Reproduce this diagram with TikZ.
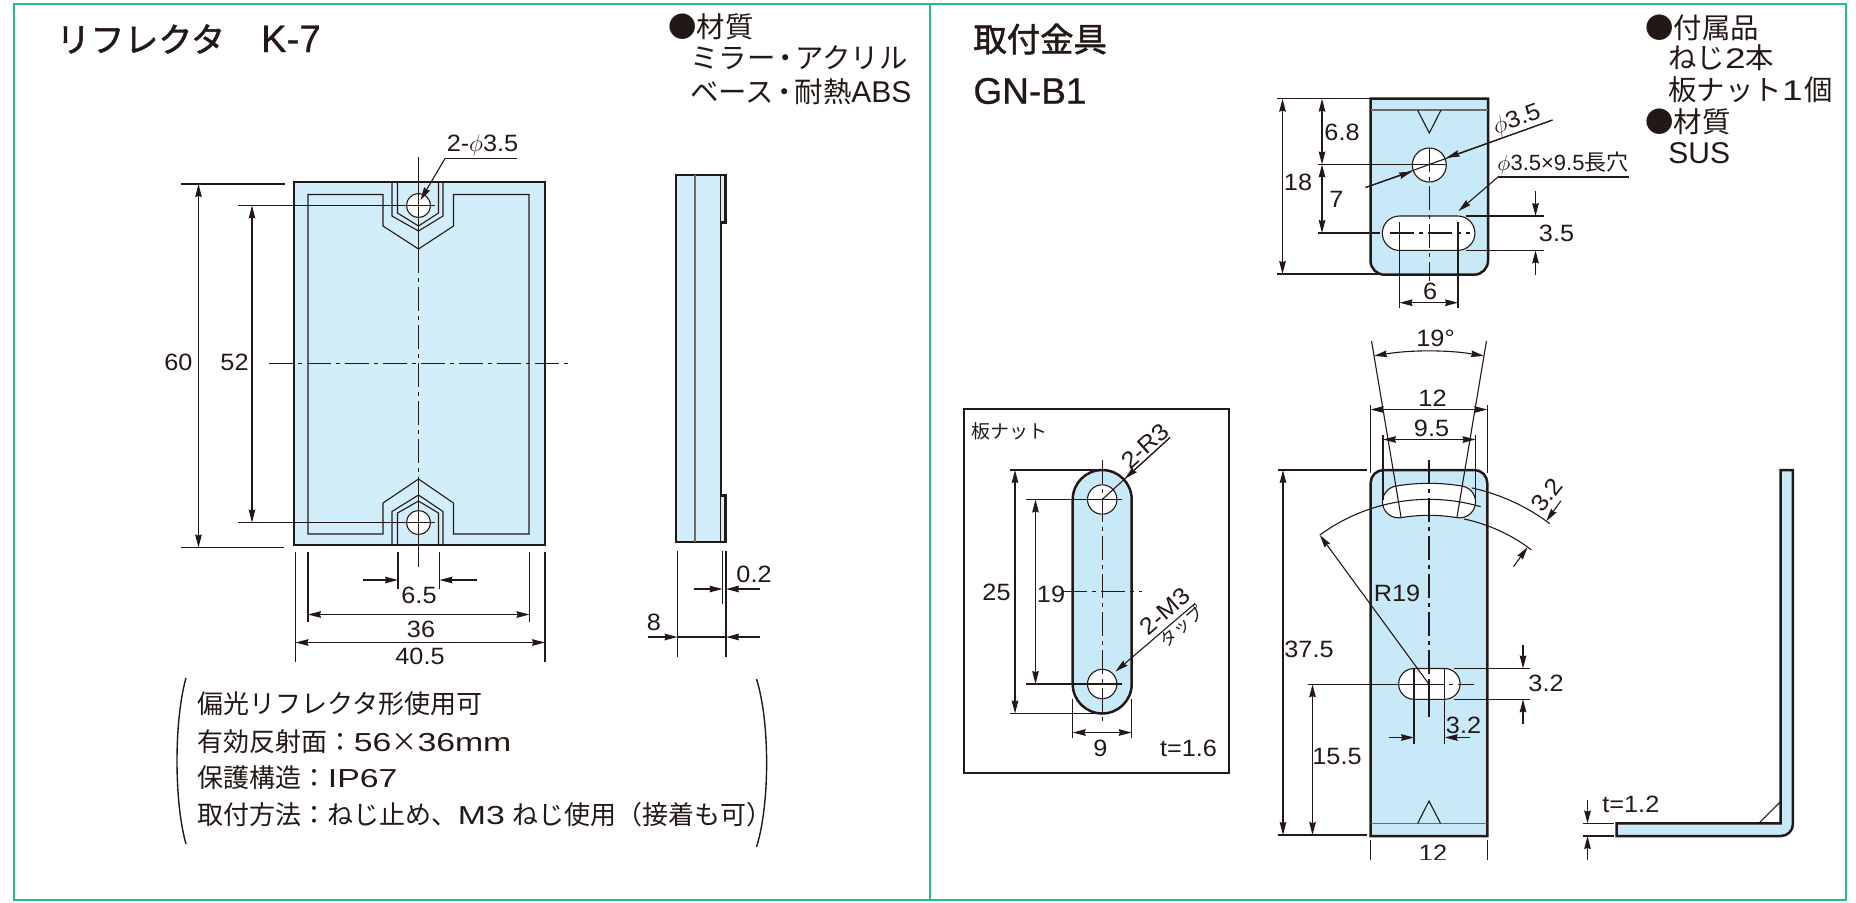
\documentclass[tikz,border=0pt]{standalone}
\usepackage{amsmath}
\usepackage{fontspec}
\setmainfont{Liberation Sans}
\newfontfamily\jpfont{Noto Sans CJK JP}
\newfontfamily\jptitle{Noto Sans CJK JP}[FakeBold=1.6]
\newfontfamily\latintitle{Liberation Sans}[FakeBold=0.6]
\newfontfamily\widefont{Liberation Sans}[FakeStretch=1.3]
\newfontfamily\dimfont{Liberation Sans}[FakeStretch=1.07]
\usetikzlibrary{calc,arrows.meta}

\definecolor{framegreen}{RGB}{40,184,146}
\definecolor{ink}{RGB}{35,24,21}
\definecolor{mirrorblue}{RGB}{210,238,251}
\definecolor{steelblue}{RGB}{200,233,248}

\tikzset{
	outline/.style={draw=ink, line width=1.25pt},
	hairline/.style={draw=ink, line width=0.55pt},
	graybar/.style={draw=ink!65, line width=0.7pt},
	centerline/.style={draw=ink, line width=0.55pt, dash pattern=on 12pt off 2.5pt on 2pt off 2.5pt},
	twoway/.style={hairline, {Stealth[length=6.5pt,width=3.3pt,inset=0.6pt]}-{Stealth[length=6.5pt,width=3.3pt,inset=0.6pt]}},
	oneway/.style={hairline, -{Stealth[length=6.5pt,width=3.3pt,inset=0.6pt]}},
	dimtext/.style={inner sep=0pt, text=ink, font=\fontsize{11.8}{13}\selectfont\dimfont},
	listtext/.style={inner sep=0pt, anchor=west, text=ink, font=\fontsize{14.2}{16}\selectfont},
	notetext/.style={inner sep=0pt, anchor=west, text=ink, font=\fontsize{13}{15}\selectfont},
	titletext/.style={inner sep=0pt, anchor=west, text=ink, font=\fontsize{16.7}{19}\selectfont},
}

\begin{document}
\begin{tikzpicture}[x=0.5pt, y=-0.5pt]

	\useasboundingbox (0,0) rectangle (1856,902);

	% ---- frame

	\draw[framegreen, line width=1.2pt] (14,4) rectangle (1846,900);
	\draw[framegreen, line width=1.2pt] (930,4) -- (930,900);

	% ---- titles

	\node[titletext] (titleK) at (56,39) {{\jptitle\fontsize{17}{19}\selectfont リフレクタ}\hspace{18pt}{\latintitle\fontsize{19.2}{20}\selectfont K-7}};
	\node[titletext] (titleG) at (973,39) {\jptitle 取付金具};
	\node[titletext] (titleN) at (973,91) {\latintitle\fontsize{18.5}{20}\selectfont GN-B1};

	% ---- material lists

	\node[listtext] (matA) at (668,27) {\jpfont ●材質};
	\node[listtext] (matB) at (690,58) {\jpfont ミラー\kern-2.2pt・\kern-2.2pt アクリル};
	\node[listtext] (matC) at (690,92) {{\jpfont ベース\kern-2pt・\kern-2pt 耐熱}\fontsize{15}{16}\selectfont ABS};

	\node[listtext] (accA) at (1645,28) {\jpfont ●付属品};
	\node[listtext] (accB) at (1668,58) {{\jpfont ねじ}{\widefont 2}{\jpfont 本}};
	\node[listtext] (accC) at (1668,90) {{\jpfont 板ナット}{\widefont 1}\kern1pt{\jpfont 個}};
	\node[listtext] (accD) at (1645,122) {\jpfont ●材質};
	\node[listtext] (accE) at (1668,153) {\fontsize{15}{16}\selectfont SUS};

	% ---- reflector, front view

	\fill[mirrorblue] (294,182) rectangle (545,545);

	\draw[hairline] (383,194.5) -- (308,194.5) -- (308,534) -- (383,534) -- (383,503) -- (418.5,479) -- (453.5,503)
		-- (453.5,534) -- (529,534) -- (529,194.5) -- (453.5,194.5) -- (453.5,226) -- (418.5,249) -- (383,226) -- cycle;

	\draw[hairline] (392,182) -- (392,216) -- (418.5,231) -- (443,216) -- (443,182);
	\draw[hairline] (397.5,182) -- (397.5,213) -- (418.5,226) -- (438.5,213) -- (438.5,182);
	\draw[hairline] (392,545) -- (392,511.5) -- (418.5,495) -- (443,511.5) -- (443,545);
	\draw[hairline] (397.5,545) -- (397.5,513) -- (418.5,501) -- (438.5,513) -- (438.5,545);

	\foreach \y in {205.5,522.5} {
		\filldraw[fill=white, draw=ink, line width=0.55pt] (418.5,\y) circle (12);
	}

	\draw[outline] (294,182) rectangle (545,545);

	\draw[hairline] (418.5,157) -- (418.5,249);
	\draw[centerline] (418.5,249) -- (418.5,479);
	\draw[hairline] (418.5,479) -- (418.5,567);
	\draw[centerline] (269,363.5) -- (569,363.5);

	% ---- reflector, dimensions

	\draw[hairline] (181,184) -- (285,184);
	\draw[hairline] (181,547.5) -- (284,547.5);
	\draw[twoway] (198.5,184) -- (198.5,547.5);
	\node[dimtext] (lblSixty) at (178.5,362) {60};

	\draw[hairline] (238,205.5) -- (434.5,205.5);
	\draw[hairline] (238,522.5) -- (434.5,522.5);
	\draw[twoway] (252,205.5) -- (252,522.5);
	\node[dimtext] (lblFiftyTwo) at (234.5,362) {52};

	\node[dimtext] (lblHole) at (482.5,145.5) {2-$\phi$3.5};
	\draw[hairline] (517,158.5) -- (445,158.5);
	\draw[oneway] (445,158.5) -- (420.5,200);

	\foreach \x in {295.5,545} { \draw[hairline] (\x,552) -- (\x,662); }
	\foreach \x in {308,529.5} { \draw[hairline] (\x,552) -- (\x,622); }
	\foreach \x in {398,439.5} { \draw[hairline] (\x,552) -- (\x,589); }

	\draw[oneway] (363,580) -- (398,580);
	\draw[oneway] (477,580) -- (439.5,580);
	\node[dimtext] (lblSixFive) at (419,595) {6.5};

	\draw[twoway] (308,614.5) -- (529.5,614.5);
	\node[dimtext] (lblThirtySix) at (421,629) {36};

	\draw[twoway] (295.5,642.5) -- (545,642.5);
	\node[dimtext] (lblForty) at (420,656) {40.5};

	% ---- reflector, side view

	\filldraw[fill=mirrorblue, outline] (676,175) -- (725.5,175) -- (725.5,222.5) -- (721,222.5) -- (721,495.5)
		-- (725.5,495.5) -- (725.5,542) -- (676,542) -- cycle;
	\draw[graybar] (695,175) -- (695,542);
	\draw[hairline] (720.5,175) -- (720.5,542);

	\draw[hairline] (677.5,551) -- (677.5,657);
	\draw[hairline] (726,551) -- (726,657);
	\draw[hairline] (722.5,551) -- (722.5,604);

	\draw[oneway] (693.5,589) -- (722.5,589);
	\draw[oneway] (760,589) -- (726,589);
	\node[dimtext] (lblGap) at (754,574) {0.2};

	\draw[hairline] (677.5,637) -- (726,637);
	\draw[oneway] (648,637) -- (677.5,637);
	\draw[oneway] (760,637) -- (726,637);
	\node[dimtext] (lblEight) at (654,622) {8};

	% ---- notes

	\draw[hairline, line width=0.7pt] (186,678) .. controls (174,720) and (174,802) .. (186,844);
	\draw[hairline, line width=0.7pt] (756.5,679) .. controls (770,722) and (770,804) .. (756.5,847);

	\node[notetext] (noteA) at (197.5,704) {\jpfont 偏光リフレクタ形使用可};
	\node[notetext] (noteB) at (197.5,741.5) {{\jpfont 有効反射面：}{\widefont 56}{\jpfont ×}{\widefont 36mm}};
	\node[notetext] (noteC) at (197.5,778) {{\jpfont 保護構造：}{\widefont IP67}};
	\node[notetext] (noteD) at (197.5,815) {{\jpfont 取付方法：ねじ止め、}{\widefont M3} {\jpfont ねじ使用（接着も可）}};

	% ---- mounting bracket, top view

	\filldraw[fill=steelblue, outline] (1370.5,98.7) -- (1488,98.7) -- (1488,260.7) arc (0:90:14)
		-- (1384.5,274.7) arc (90:180:14) -- cycle;
	\draw[graybar] (1370.5,110) -- (1488,110);
	\draw[hairline] (1417.5,110) -- (1429.3,133) -- (1441,110);

	\filldraw[fill=white, draw=ink, line width=0.55pt] (1429.3,165) circle (17);
	\filldraw[fill=white, draw=ink, line width=0.55pt] (1399.5,216) -- (1457.7,216) arc (270:450:17.2)
		-- (1399.5,250.4) arc (90:270:17.2) -- cycle;

	\draw[centerline] (1429.3,148) -- (1429.3,278);
	\draw[hairline] (1429.3,278) -- (1429.3,281);
	\draw[centerline] (1390,233) -- (1470,233);

	% ---- mounting bracket, top view dimensions

	\draw[hairline] (1277,98.7) -- (1370.5,98.7);
	\draw[hairline] (1277,274) -- (1377.5,274);
	\draw[twoway] (1282.5,98.7) -- (1282.5,274);
	\node[dimtext] (lblEighteen) at (1298,182) {18};

	\draw[hairline] (1317.5,164.5) -- (1446,164.5);
	\draw[hairline] (1317.5,233) -- (1379.5,233);
	\draw[twoway] (1322,98.7) -- (1322,164.5);
	\draw[twoway] (1322,164.5) -- (1322,233);
	\node[dimtext] (lblSixEight) at (1342,132.5) {6.8};
	\node[dimtext] (lblSeven) at (1336.5,199) {7};

	\draw[hairline] (1365.5,187.5) -- (1552.5,120);
	\draw[oneway] (1552.5,120) -- (1446.5,157.7);
	\draw[oneway] (1365.5,187.5) -- (1412,171.5);
	\node[dimtext, rotate=20] (lblRound) at (1517,120.5) {$\phi$3.5};

	\node[dimtext, font=\fontsize{11}{13}\selectfont] (lblSlot) at (1563,163) {$\phi$3.5×9.5{\jpfont 長穴}};
	\draw[hairline] (1628.5,177) -- (1498,177);
	\draw[oneway] (1498,177) -- (1458.5,211);

	\draw[hairline] (1466,216) -- (1543.5,216);
	\draw[hairline] (1466,250.4) -- (1543.5,250.4);
	\draw[oneway] (1535.5,191) -- (1535.5,216);
	\draw[oneway] (1535.5,275) -- (1535.5,250.4);
	\node[dimtext] (lblSlotH) at (1556.5,233) {3.5};

	\foreach \x in {1399.5,1458} { \draw[hairline] (\x,222) -- (\x,308); }
	\draw[twoway] (1399.5,302.7) -- (1458,302.7);
	\node[dimtext] (lblSix) at (1430,291) {6};

	% ---- plate nut

	\draw[draw=ink, line width=1pt] (963.5,409) rectangle (1228.5,772.5);
	\node[inner sep=0pt, anchor=west, text=ink, font=\fontsize{9.5}{11}\selectfont] (nutTitle) at (971.5,431) {\jpfont 板ナット};

	\filldraw[fill=steelblue, outline] (1072.7,499.5) arc (180:360:29.5) -- (1131.7,684) arc (0:180:29.5) -- cycle;

	\foreach \y in {499.5,684} {
		\filldraw[fill=white, draw=ink, line width=0.55pt] (1102.2,\y) circle (14.7);
		\draw[hairline] (1026,\y) -- (1121.5,\y);
	}

	\draw[centerline] (1102.2,460) -- (1102.2,723);
	\draw[centerline] (1063,591.5) -- (1142,591.5);

	\draw[hairline] (1010,470) -- (1100,470);
	\draw[hairline] (1010,713.5) -- (1100,713.5);
	\draw[twoway] (1015,470) -- (1015,713.5);
	\node[dimtext] (lblTwentyFive) at (996.5,592) {25};

	\draw[twoway] (1035.5,499.5) -- (1035.5,684);
	\node[dimtext] (lblNineteen) at (1051,594) {19};

	\foreach \x in {1072.7,1131.7} { \draw[hairline] (\x,699) -- (\x,738); }
	\draw[twoway] (1072.7,732.5) -- (1131.7,732.5);
	\node[dimtext] (lblNine) at (1100.5,748) {9};
	\node[dimtext] (lblNutT) at (1188.5,748) {t=1.6};

	\draw[hairline] (1170,437.5) -- (1102.2,499.5);
	\draw[oneway] (1170,437.5) -- (1125,478.5);
	\node[dimtext, rotate=42] (lblRadius) at (1145,446.5) {2-R3};

	\draw[oneway] (1195,603.5) -- (1115.5,671.5);
	\node[dimtext, rotate=41] (lblTap) at (1165,611.5) {2-M3};
	\node[dimtext, rotate=41, font=\fontsize{8.5}{10}\selectfont] (lblTapB) at (1181.5,626.5) {\jpfont タップ};

	% ---- bracket, front view

	\coordinate (RC) at (1429,684.3);
	\def\angA{260.5}
	\def\angB{279.5}

	\filldraw[fill=steelblue, outline] (1370.6,836) -- (1370.6,483) arc (180:270:13) -- (1474.3,470) arc (270:360:13)
		-- (1487.3,836) -- cycle;

	\draw[graybar] (1370.6,823.3) -- (1487.3,823.3);
	\draw[hairline] (1417.7,823.3) -- (1429,801) -- (1440.5,823.3);

	\filldraw[fill=white, draw=ink, line width=0.55pt] ($(RC)+(\angA:201)$) arc (\angA:\angB:201)
		arc (\angB:\angB+180:16) arc (\angB:\angA:169) arc (\angA-180:\angA:16) -- cycle;

	\filldraw[fill=white, draw=ink, line width=0.55pt] (1414,668.5) -- (1444.7,668.5) arc (270:450:15.4)
		-- (1414,699.3) arc (90:270:15.4) -- cycle;

	\draw[centerline] (1429,460) -- (1429,680);
	\draw[hairline] (1429,680) -- (1429,717);
	\draw[hairline] (1307.5,684.3) -- (1420,684.3);
	\draw[centerline] (1420,684.3) -- (1474,684.3);

	% ---- bracket, front view dimensions

	\draw[hairline] ($(RC)+(\angA:169)$) -- ($(RC)+(\angA:348)$);
	\draw[hairline] ($(RC)+(\angB:169)$) -- ($(RC)+(\angB:348)$);
	\draw[twoway] ($(RC)+(\angA:333)$) arc (\angA:\angB:333);
	\node[dimtext] (lblAngle) at (1435.5,338) {19°};

	\foreach \x in {1370.5,1487.3} { \draw[hairline] (\x,405) -- (\x,473); }
	\draw[twoway] (1370.5,409.5) -- (1487.3,409.5);
	\node[dimtext] (lblTwelve) at (1432.5,398.5) {12};

	\draw[hairline] (1383,435) -- (1383,500);
	\draw[hairline] (1475.5,435) -- (1475.5,505);
	\draw[twoway] (1383,439.5) -- (1475.5,439.5);
	\node[dimtext] (lblNineFive) at (1431.5,428.5) {9.5};

	\draw[hairline] ($(RC)+(282.3:201)$) arc (282.3:306.9:201);
	\draw[hairline] ($(RC)+(282:169)$) arc (282:307.3:169);
	\draw[oneway] ($(RC)+(305.7:226)$) -- ($(RC)+(305.7:201)$);
	\draw[oneway] ($(RC)+(305.7:145)$) -- ($(RC)+(305.7:169)$);
	\node[dimtext, rotate=52] (lblWidth) at (1546.5,495) {3.2};

	\draw[hairline] ($(RC)+(233.8:185)$) arc (233.8:286.2:185);
	\draw[oneway] (RC) -- ($(RC)+(233.8:185)$);
	\node[dimtext] (lblRnineteen) at (1397,593) {R19};

	\draw[hairline] (1278,470) -- (1367,470);
	\draw[hairline] (1277.5,835) -- (1367,835);
	\draw[twoway] (1283,470) -- (1283,835);
	\node[dimtext] (lblLong) at (1309,649) {37.5};

	\draw[twoway] (1312.5,684.3) -- (1312.5,835);
	\node[dimtext] (lblLow) at (1337,756.5) {15.5};

	\draw[hairline] (1454,668.5) -- (1530,668.5);
	\draw[hairline] (1454,699.3) -- (1530,699.3);
	\draw[oneway] (1523,644.5) -- (1523,668.5);
	\draw[oneway] (1523,723.5) -- (1523,699.3);
	\node[dimtext] (lblSlotB) at (1546,683.5) {3.2};

	\foreach \x in {1414,1444.7} { \draw[hairline] (\x,668.5) -- (\x,743.5); }
	\draw[oneway] (1388.5,737.5) -- (1414,737.5);
	\draw[oneway] (1470,737.5) -- (1444.7,737.5);
	\node[dimtext] (lblPitch) at (1463.5,725) {3.2};

	% ---- bracket, side view

	\filldraw[fill=steelblue, outline] (1616.5,823.3) -- (1780.7,823.3) -- (1780.7,470) -- (1792.9,470)
		-- (1792.9,824) arc (0:90:12) -- (1616.5,836) -- cycle;
	\draw[hairline] (1758.7,823.3) -- (1780.7,801.5);

	\draw[hairline] (1582.5,823.5) -- (1613.5,823.5);
	\draw[hairline] (1582.5,836) -- (1613.5,836);
	\draw[oneway] (1587.5,799.5) -- (1587.5,823.5);
	\node[dimtext, anchor=west] (lblSideT) at (1602,804) {t=1.2};

	% ---- cut off at the lower edge

	\begin{scope}
		\clip (0,0) rectangle (1856,859.5);
		\foreach \x in {1370.6,1487.3} { \draw[hairline] (\x,839.5) -- (\x,870); }
		\node[dimtext] (lblBase) at (1433,853) {12};
		\draw[oneway] (1587.5,870) -- (1587.5,836);
	\end{scope}

\end{tikzpicture}
\end{document}
